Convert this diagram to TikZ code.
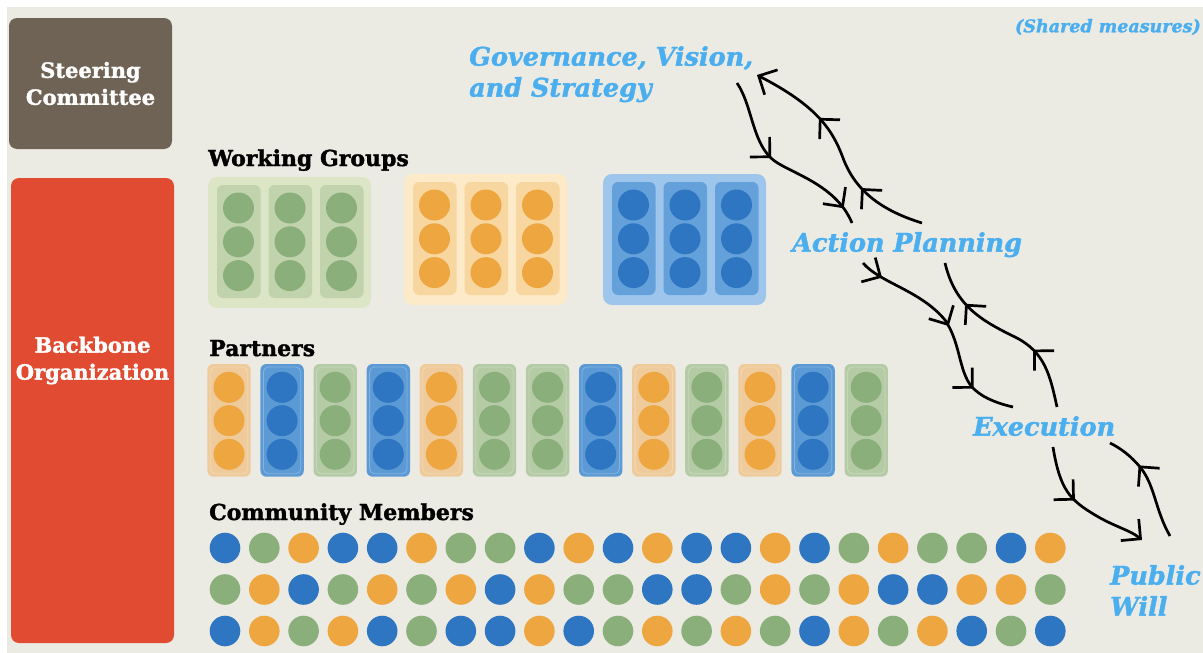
\documentclass[tikz,border=0pt]{standalone}
\usepackage{fontspec}
\setmainfont{DejaVu Serif}[BoldFeatures={FakeBold=1.6},BoldItalicFeatures={FakeBold=1.6}]
\usetikzlibrary{arrows.meta,decorations.markings}

\definecolor{paper}{RGB}{236,235,227}
\definecolor{steercol}{RGB}{111,99,85}
\definecolor{backbonecol}{RGB}{224,75,50}
\definecolor{skyblue}{RGB}{75,174,239}
\definecolor{dotG}{RGB}{138,175,122}
\definecolor{dotO}{RGB}{238,166,64}
\definecolor{dotB}{RGB}{46,118,193}
\definecolor{colG}{RGB}{181,203,166}
\definecolor{colO}{RGB}{239,203,155}
\definecolor{colB}{RGB}{91,154,213}
\definecolor{grpG}{RGB}{220,229,198}
\definecolor{grpO}{RGB}{252,234,200}
\definecolor{grpB}{RGB}{158,198,236}
\definecolor{wcolG}{RGB}{193,211,172}
\definecolor{wcolO}{RGB}{248,214,160}
\definecolor{wcolB}{RGB}{100,160,218}

\begin{document}
\begin{tikzpicture}[x=1pt,y=-1pt,
    wbarb/.tip={Straight Barb[length=14pt,width=28pt]},
    flow/.style={line width=2.7pt},
    heads/.style={postaction={decorate,decoration={markings,mark=at position #1 with {\arrow{wbarb}}}}},
    stage/.style={text=skyblue,font=\fontsize{25.5}{31}\selectfont\bfseries\itshape,align=left,inner sep=0pt,anchor=north west},
    grouplabel/.style={font=\fontsize{22}{24}\selectfont\bfseries,anchor=base west,inner sep=0pt},
    sidebox/.style={rounded corners=8pt,minimum width=163pt,inner sep=0pt},
    sidetext/.style={text=white,font=\fontsize{21}{27}\selectfont\bfseries,align=center,inner sep=0pt}
]
\useasboundingbox (0,0) rectangle (1203,653);
\fill[white] (0,0) rectangle (1203,653);
\fill[paper] (7,7) rectangle (1203,653);

% left boxes
\node[sidebox,fill=steercol,minimum height=131pt] (steer) at (90.5,83.5) {};
\node[sidetext] (steertext) at (steer.center) {Steering\\Committee};
\node[sidebox,fill=backbonecol,minimum height=465pt] (backbone) at (92.5,410.5) {};
\node[sidetext] (backbonetext) at (92.5,360.5) {Backbone\\Organization};

% labels
\node[grouplabel] (wglabel) at (208,166) {Working Groups};
\node[grouplabel] (ptlabel) at (209,356) {Partners};
\node[grouplabel] (cmlabel) at (209,520) {Community Members};

% working groups
\foreach \k/\gx/\gy in {G/208/177, O/404/174, B/603/174} {
  \fill[fill=grp\k,rounded corners=9pt] (\gx,\gy) rectangle ++(163,131);
  \foreach \c in {0,1,2} {
    \fill[fill=wcol\k,rounded corners=6pt] ({\gx+9+51.5*\c},{\gy+8}) rectangle ++(43.5,113);
    \foreach \r in {0,1,2}
      \fill[fill=dot\k] ({\gx+30.5+51.5*\c},{\gy+31+33.8*\r}) circle[radius=15.5];
  }
}

% partners
\foreach \k [count=\i from 0] in {O,B,G,B,O,G,G,B,O,G,O,B,G} {
  \fill[fill=col\k,rounded corners=6pt] ({207.3+53.1*\i},364) rectangle ++(43.4,112.7);
  \draw[white,opacity=0.25,line width=0.8pt,rounded corners=5pt] ({210.3+53.1*\i},367) rectangle ++(37.4,106.7);
  \foreach \y in {387.3,420.7,454.3}
    \fill[fill=dot\k] ({229+53.1*\i},\y) circle[radius=15.5];
}

% community members
\foreach \row [count=\j from 0] in {
    {B,G,O,B,B,O,G,G,B,O,B,O,B,B,O,B,G,O,G,G,B,O},
    {G,O,B,G,O,G,O,B,O,G,G,B,B,G,O,G,O,B,B,O,O,G},
    {B,O,G,O,B,G,B,B,O,B,G,O,G,O,G,B,O,G,O,B,G,B}} {
  \foreach \k [count=\i from 0] in \row
    \fill[fill=dot\k] ({225+39.3*\i},{548+41.5*\j}) circle[radius=15.3];
}

% stages
\node[stage] (gov) at (469,46) {Governance, Vision,\\and Strategy};
\node[stage] (plan) at (792,232) {Action Planning};
\node[stage] (exec) at (973,416) {Execution};
\node[stage] (will) at (1110,565) {Public\\Will};
\node[text=skyblue,font=\fontsize{17.5}{20}\selectfont\bfseries\itshape,anchor=east,inner sep=0pt] (shared) at (1201,27) {(Shared measures)};

% loops between stages
\draw[flow,heads=0.44,heads=0.91] (737,83) .. controls (752,105) and (752,140) .. (771,158)
  .. controls (785,172) and (835,182) .. (852,223);
\draw[flow,-wbarb,heads=0.31,heads=0.67] (922,223) .. controls (880,210) and (855,190) .. (843,158)
  .. controls (832,128) and (815,105) .. (757,75);
\draw[flow,heads=0.11,heads=0.49,heads=0.80] (863,263) .. controls (880,283) and (920,290) .. (945,320)
  .. controls (962,345) and (958,375) .. (975,390) .. controls (985,399) and (1000,404) .. (1013,407);
\draw[flow,heads=0.33,heads=0.76] (1057,407) .. controls (1050,375) and (1045,352) .. (1015,337)
  .. controls (980,320) and (955,305) .. (945,263);
\draw[flow,-wbarb,heads=0.43] (1053,447) .. controls (1060,490) and (1070,500) .. (1095,515)
  .. controls (1115,527) and (1130,530) .. (1142,540);
\draw[flow,heads=0.68] (1170,536) .. controls (1155,510) and (1155,485) .. (1140,467)
  .. controls (1130,455) and (1120,448) .. (1110,443);
\end{tikzpicture}
\end{document}
